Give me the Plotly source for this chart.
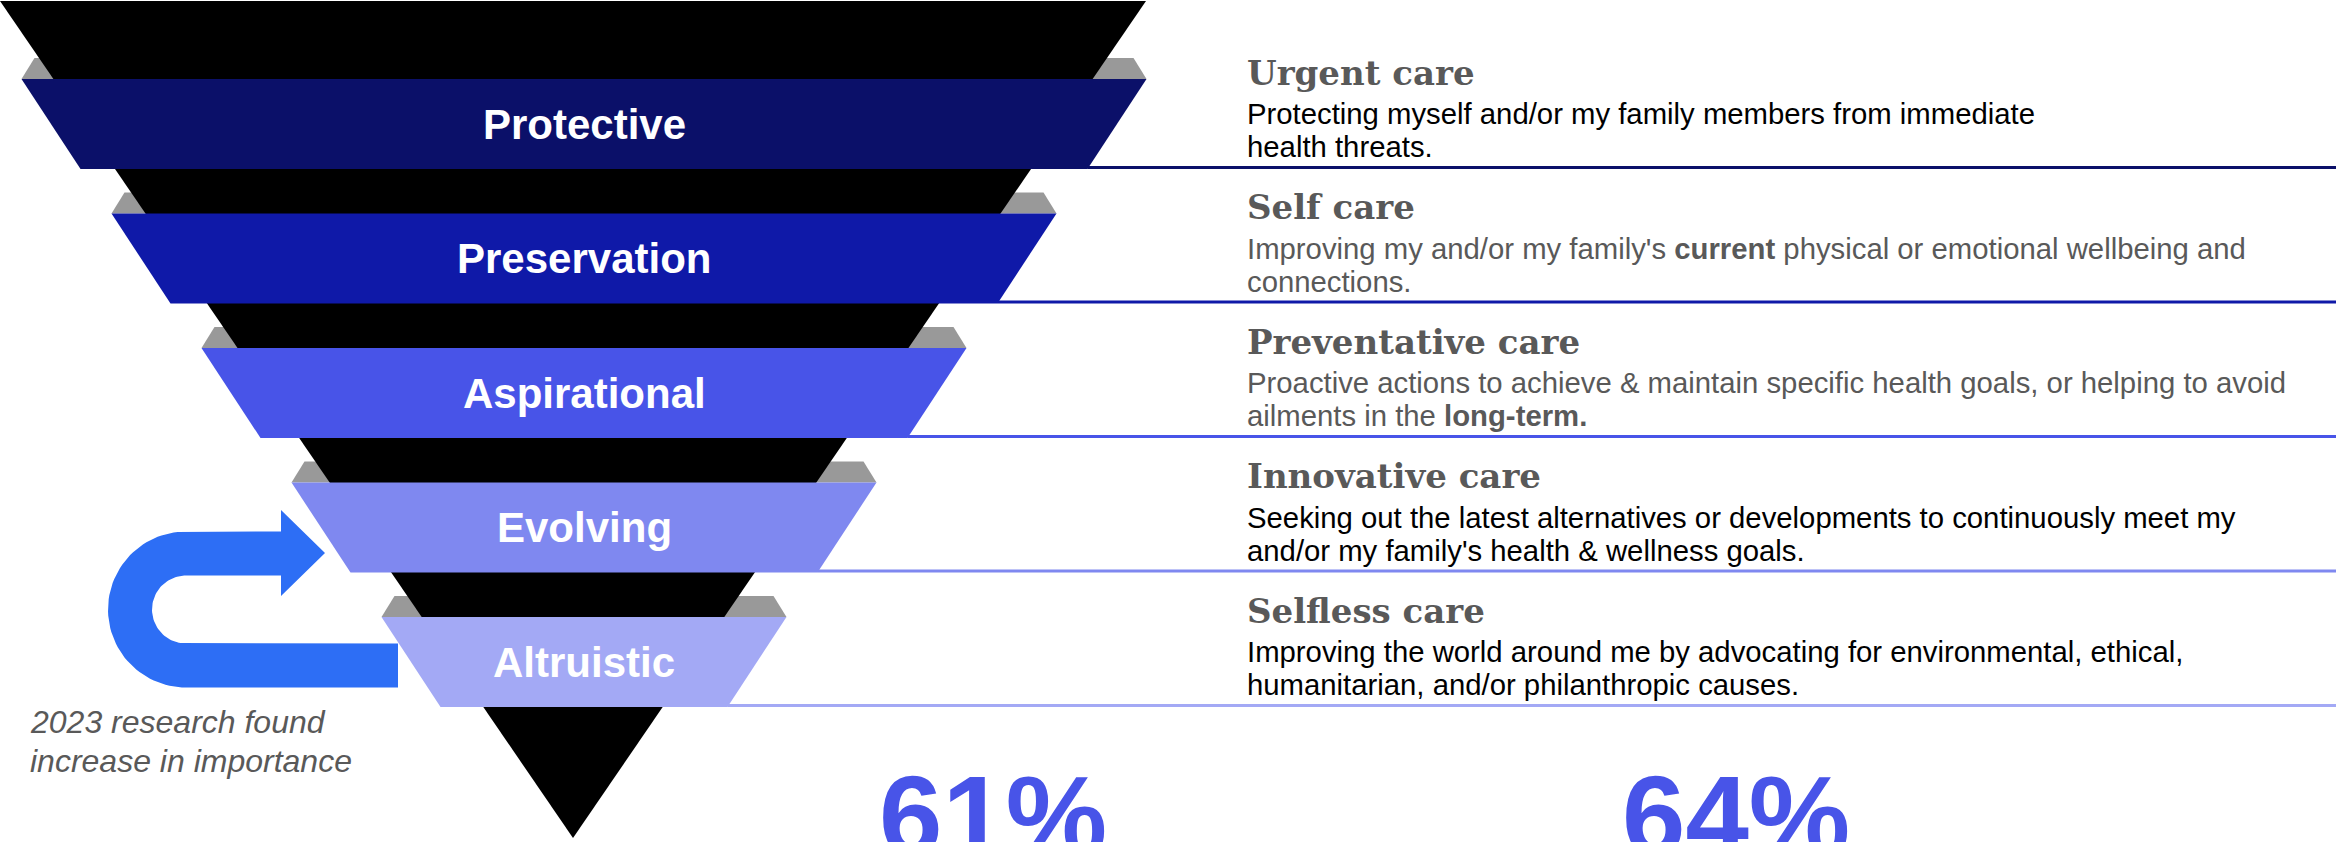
import numpy as np
import plotly.graph_objects as go

# ---- content -------------------------------------------------------------
levels = ["Protective", "Preservation", "Aspirational", "Evolving", "Altruistic"]
band_colors = ["#0B1069", "#0F19A8", "#4854E8", "#7F88F0", "#A3A9F5"]

care_titles = ["Urgent care", "Self care", "Preventative care", "Innovative care", "Selfless care"]
care_lines = [
    ["Protecting myself and/or my family members from immediate",
     "health threats."],
    ["Improving my and/or my family's <b>current</b> physical or emotional wellbeing and",
     "connections."],
    ["Proactive actions to achieve &amp; maintain specific health goals, or helping to avoid",
     "ailments in the <b>long-term.</b>"],
    ["Seeking out the latest alternatives or developments to continuously meet my",
     "and/or my family's health &amp; wellness goals."],
    ["Improving the world around me by advocating for environmental, ethical,",
     "humanitarian, and/or philanthropic causes."],
]
desc_colors = ["#000000", "#595959", "#595959", "#000000", "#000000"]

percents = [61, 64]
percent_x = [993, 1736]

note_lines = ["2023 research found", "increase in importance"]

# ---- canvas ----------------------------------------------------------------
W, H = 2336, 842
SANS = "Arial, Liberation Sans, sans-serif"
SERIF = "Georgia, DejaVu Serif, serif"
GREY_TEXT = "#595959"

# funnel geometry (pixel-like coordinates, y grows downward)
CX = 584
TOP0 = 79
STEP = 134.5
BAND_H = 90
HALF0 = 562.5
HALF_STEP = 90
TAPER = 59
TAB_H = 21
TAB_INSET = 13
TEXT_X = 1245

fig = go.Figure()


def poly(xs, ys, color):
    fig.add_trace(go.Scatter(
        x=list(xs) + [xs[0]], y=list(ys) + [ys[0]],
        mode="lines", fill="toself", fillcolor=color,
        line=dict(width=0, color=color), hoverinfo="skip", showlegend=False))


bands = []
for i, name in enumerate(levels):
    top = TOP0 + STEP * i
    bot = top + BAND_H
    ht = HALF0 - HALF_STEP * i
    hb = ht - TAPER
    bands.append((top, bot, ht, hb))

# grey back edges of each ring
for top, bot, ht, hb in bands:
    poly([CX - ht + TAB_INSET, CX + ht - TAB_INSET, CX + ht, CX - ht],
         [top - TAB_H, top - TAB_H, top, top], "#999999")

# black inverted cone
poly([0, 1146, 573], [1, 1, 838], "#000000")

# coloured rings
for (top, bot, ht, hb), color in zip(bands, band_colors):
    poly([CX - ht, CX + ht, CX + hb, CX - hb], [top, top, bot, bot], color)

# U-turn arrow on the left
acx, acy = 186, 609.5
r_out, r_in = 78, 34
t = np.linspace(np.pi / 2, 3 * np.pi / 2, 60)
outer_x = acx + r_out * np.cos(t)
outer_y = acy - r_out * np.sin(t)
inner_x = acx + r_in * np.cos(t[::-1])
inner_y = acy - r_in * np.sin(t[::-1])
ax = ([281] + list(outer_x) + [398, 398] + list(inner_x) + [281, 281, 325, 281])
ay = ([acy - r_out] + list(outer_y) + [acy + r_out, acy + r_in] + list(inner_y)
      + [acy - r_in, 596, 553, 510])
poly(ax, ay, "#2D6EF5")

annotations = []
shapes = []

for (top, bot, ht, hb), name, color in zip(bands, levels, band_colors):
    annotations.append(dict(
        x=CX, y=(top + bot) / 2, text=f"<b>{name}</b>", showarrow=False,
        xanchor="center", yanchor="middle",
        font=dict(family=SANS, size=42, color="#FFFFFF")))
    shapes.append(dict(type="line", x0=CX + hb, x1=W, y0=bot - 1.5, y1=bot - 1.5,
                       xref="x", yref="y", line=dict(color=color, width=3)))

for i, (title, lines, dcol) in enumerate(zip(care_titles, care_lines, desc_colors)):
    base = bands[i][1] - 1.5
    annotations.append(dict(
        x=TEXT_X, y=base - 83 - 12, text=f"<b>{title}</b>", showarrow=False,
        xanchor="left", yanchor="middle",
        font=dict(family=SERIF, size=34, color=GREY_TEXT)))
    for k, line in enumerate(lines):
        annotations.append(dict(
            x=TEXT_X, y=base - 44 + 33 * k - 10, text=line, showarrow=False,
            xanchor="left", yanchor="middle",
            font=dict(family=SANS, size=29.3, color=dcol)))

for k, line in enumerate(note_lines):
    annotations.append(dict(
        x=28, y=722 + 39 * k, text=f"<i>{line}</i>", showarrow=False,
        xanchor="left", yanchor="middle",
        font=dict(family=SANS, size=32, color=GREY_TEXT)))

for v, px in zip(percents, percent_x):
    annotations.append(dict(
        x=px, y=815, text=f"<b>{v}%</b>", showarrow=False,
        xanchor="center", yanchor="middle",
        font=dict(family=SANS, size=114, color="#4854E8")))

fig.update_layout(
    width=W, height=H, autosize=False,
    margin=dict(l=0, r=0, t=0, b=0, pad=0),
    paper_bgcolor="#FFFFFF", plot_bgcolor="#FFFFFF",
    xaxis=dict(range=[0, W], visible=False, fixedrange=True),
    yaxis=dict(range=[H, 0], visible=False, fixedrange=True),
    annotations=annotations, shapes=shapes, showlegend=False,
)

fig.write_html("out.html")
